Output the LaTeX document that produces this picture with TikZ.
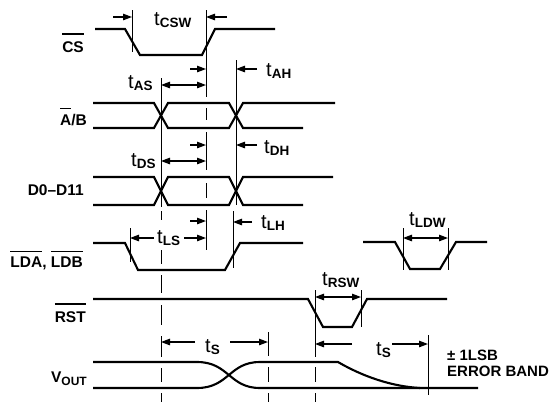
\documentclass[tikz,border=0pt]{standalone}
\usepackage{fontspec}
\setmainfont{Liberation Sans}
\usetikzlibrary{arrows.meta}
\newcommand\ovl[2]{\vbox{\hrule height 1.7pt\kern #1\hbox{#2}}}
\newcommand\tlab[1]{{\fontsize{20}{20}\selectfont t}{\fontsize{13.5}{13.5}\selectfont\bfseries\raisebox{-2.5pt}{#1}}}
\begin{document}
\begin{tikzpicture}[x=1pt,y=-1pt,
  sig/.style={line width=2.1pt},
  gd/.style={line width=1pt},
  ar/.style={line width=1.2pt,-{Triangle[length=9pt,width=6.5pt]}},
  dar/.style={line width=1.2pt,{Triangle[length=9pt,width=6.5pt]}-{Triangle[length=9pt,width=6.5pt]}},
  lab/.style={inner sep=0pt,anchor=base east,font=\fontsize{15.5}{15.5}\selectfont\bfseries},
  tl/.style={inner sep=0pt,anchor=base west},
  note/.style={inner sep=0pt,anchor=base west,font=\fontsize{15}{15}\selectfont\bfseries}]
\useasboundingbox (0,0) rectangle (552,402);

% signal labels
\node[lab] (cs) at (84,52) {\ovl{6pt}{CS}};
\node[lab] (ab) at (87,125) {\ovl{5pt}{A}/B};
\node[lab] (dd) at (84,195) {D0–D11};
\node[lab] (ld) at (83,267) {\ovl{4pt}{LDA}, \ovl{4pt}{LDB}};
\node[lab] (rst) at (86,322) {\ovl{6pt}{RST}};
\node[lab] (vout) at (87,382) {V\raisebox{-3pt}{\fontsize{12}{12}\selectfont OUT}};

% waveforms
\draw[sig] (95,29) -- (125,29) -- (140,55) -- (202,55) -- (215,29) -- (275,29);
\draw[sig] (93,103) -- (154,103) -- (168,128) -- (229,128) -- (243,103) -- (335,103);
\draw[sig] (93,128) -- (154,128) -- (168,103) -- (229,103) -- (243,128) -- (303,128);
\draw[sig] (93,177) -- (154,177) -- (168,205) -- (229,205) -- (243,177) -- (333,177);
\draw[sig] (93,205) -- (154,205) -- (168,177) -- (229,177) -- (243,205) -- (303,205);
\draw[sig] (93,243) -- (125,243) -- (138,270) -- (225,270) -- (240,243) -- (303,243);
\draw[sig] (363,242) -- (395,242) -- (410,269) -- (440,269) -- (456,242) -- (487,242);
\draw[sig] (93,299) -- (308,299) -- (323,327) -- (352,327) -- (367,299) -- (447,299);
\draw[sig] (93,362) -- (197,362) .. controls (229,362) and (229,388) .. (260,388) -- (478,388);
\draw[sig] (93,388) -- (197,388) .. controls (229,388) and (229,362) .. (260,362) -- (338,362)
  .. controls (355,372) and (385,386) .. (420,388);

% guide lines
\draw[gd] (132,10) -- (132,52);
\draw[gd] (206,10) -- (206,97) (206,108) -- (206,120) (206,132) -- (206,170)
  (206,183) -- (206,198) (206,210) -- (206,250);
\draw[gd] (161,78) -- (161,207) (161,211) -- (161,220) (161,250) -- (161,264)
  (161,275) -- (161,293) (161,305) -- (161,325) (161,336) -- (161,357)
  (161,368) -- (161,382) (161,393) -- (161,402);
\draw[gd] (236,60) -- (236,205);
\draw[gd] (233,211) -- (233,268);
\draw[gd] (130,228) -- (130,262);
\draw[gd] (268,332) -- (268,356) (268,367) -- (268,382) (268,393) -- (268,402);
\draw[gd] (315,290) -- (315,357) (315,367) -- (315,382) (315,393) -- (315,402);
\draw[gd] (361,290) -- (361,327);
\draw[gd] (428,335) -- (428,395);
\draw[gd] (403,228) -- (403,270);
\draw[gd] (448,228) -- (448,270);

% timing arrows
\draw[ar] (113,17) -- (132,17);
\draw[ar] (227,17) -- (206,17);
\draw[ar] (190,69) -- (206,69);
\draw[dar] (161,85) -- (206,85);
\draw[ar] (257,69) -- (236,69);
\draw[ar] (190,145) -- (206,145);
\draw[dar] (161,161) -- (206,161);
\draw[ar] (257,145) -- (236,145);
\draw[ar] (190,221) -- (206,221);
\draw[ar] (154,238) -- (130,238);
\draw[ar] (184,238) -- (206,238);
\draw[ar] (252,222) -- (233,222);
\draw[dar] (315,297) -- (361,297);
\draw[dar] (403,238) -- (448,238);
\draw[ar] (195,342) -- (161,342);
\draw[ar] (230,342) -- (268,342);
\draw[ar] (352,344) -- (315,344);
\draw[ar] (392,344) -- (428,344);

% timing labels
\node[tl] (tcsw) at (154,25) {\tlab{CSW}};
\node[tl] (tas) at (128,88) {\tlab{AS}};
\node[tl] (tah) at (266,76) {\tlab{AH}};
\node[tl] (tds) at (131,166) {\tlab{DS}};
\node[tl] (tdh) at (264,153) {\tlab{DH}};
\node[tl] (tls) at (157,243) {\tlab{LS}};
\node[tl] (tlh) at (261,228) {\tlab{LH}};
\node[tl] (trsw) at (322,285) {\tlab{RSW}};
\node[tl] (tldw) at (409,225) {\tlab{LDW}};
\node[tl] (ts1) at (205,352) {\tlab{S}};
\node[tl] (ts2) at (376,355) {\tlab{S}};

\node[note] (eb1) at (447,360) {± 1LSB};
\node[note] (eb2) at (447,376) {ERROR BAND};
\end{tikzpicture}
\end{document}
